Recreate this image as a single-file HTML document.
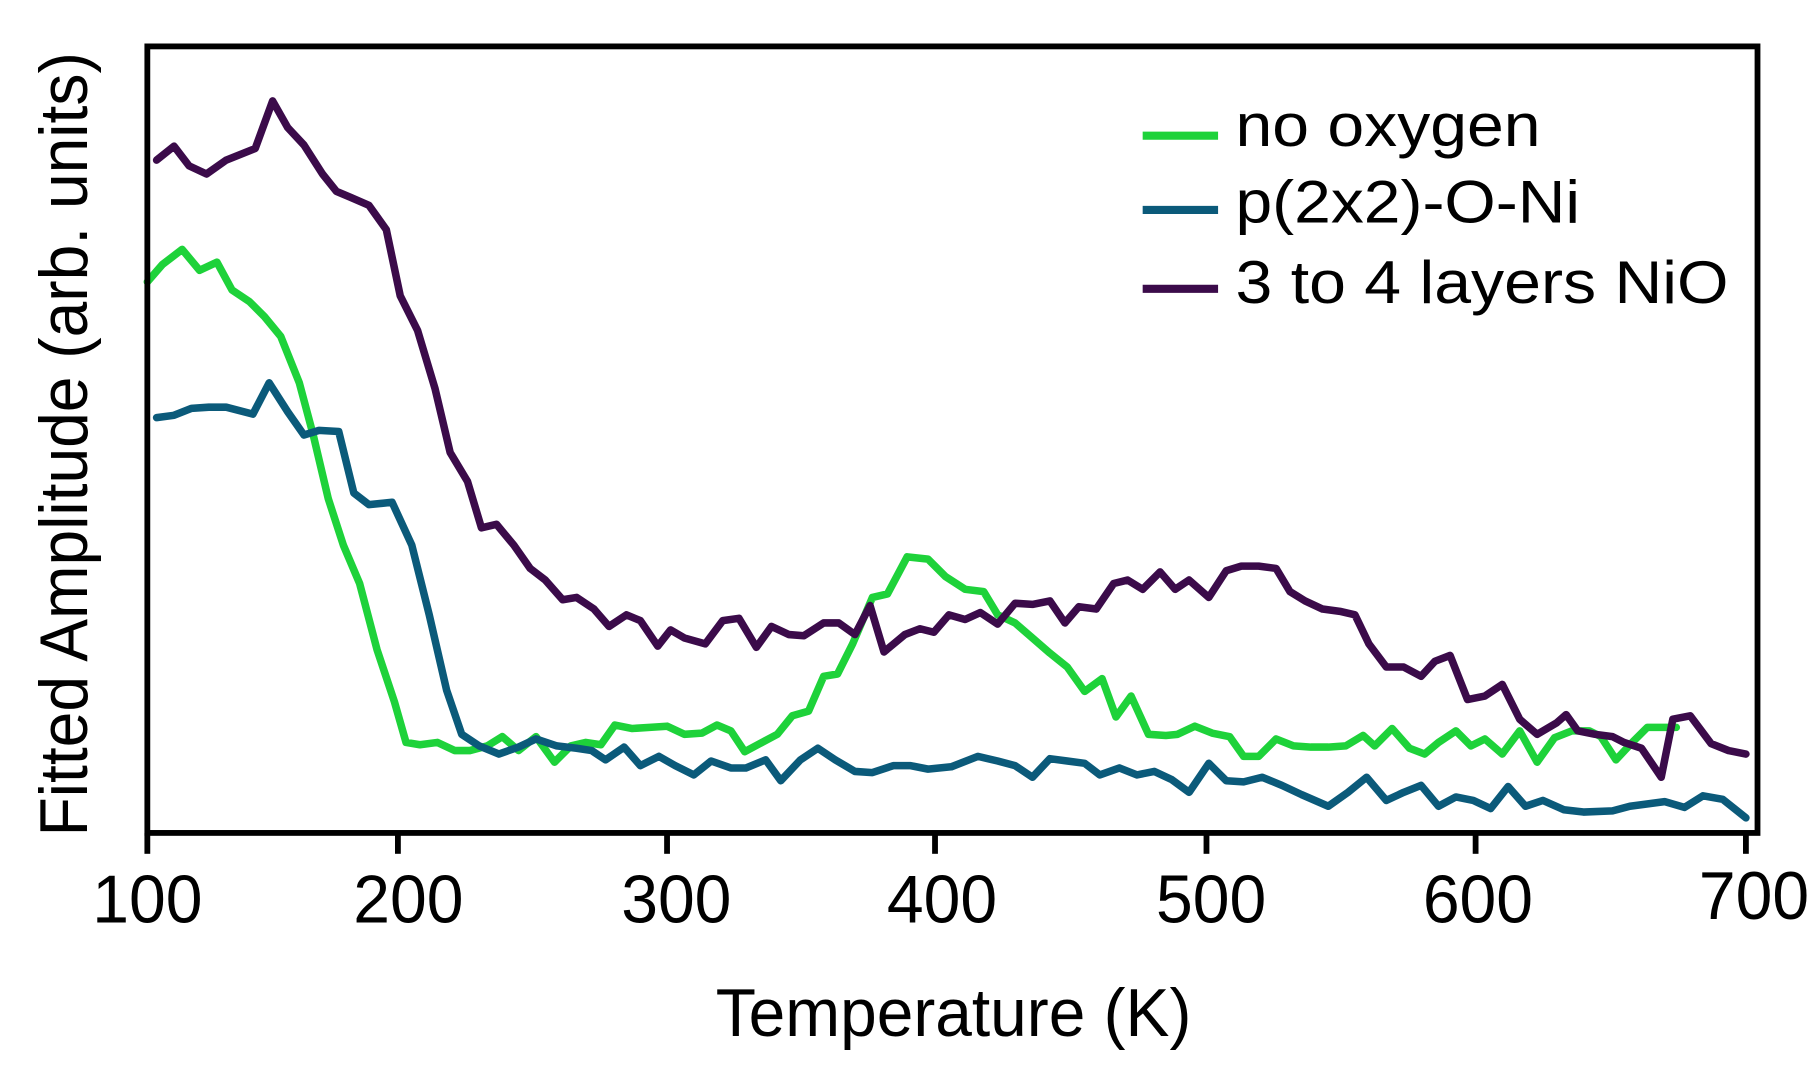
<!DOCTYPE html>
<html><head><meta charset="utf-8"><style>html,body{margin:0;padding:0;background:#fff;}svg{display:block}</style></head>
<body>
<svg width="1819" height="1069" viewBox="0 0 1568 921.5" xmlns="http://www.w3.org/2000/svg" font-family="Liberation Sans, Arial, sans-serif">
<rect width="1568" height="921.5" fill="#fff"/>
<g fill="none" stroke-width="6.5" stroke-linejoin="round" stroke-linecap="round">
<polyline stroke="#1ed23a" points="127,243 140,228 157,215 172,233 187,226 200,250 215,260 228,273 242,290 258,330 270,375 283,430 296,470 310,503 325,560 340,605 350,640 362,642 377,640 392,647 405,647 420,643 433,635 447,647 462,635 478,657 492,643 505,640 518,642 530,625 545,628 560,627 575,626 590,633 605,632 618,625 630,630 642,648 655,641 670,633 683,617 697,613 710,583 722,581 735,555 752,515 765,512 782,480 800,482 815,497 832,508 848,510 860,530 875,537 890,550 905,563 920,575 935,596 950,585 962,618 975,600 990,633 1005,634 1015,633 1030,626 1045,632 1060,635 1072,652 1085,652 1100,637 1115,643 1130,644 1145,644 1160,643 1175,634 1185,643 1200,628 1215,645 1228,650 1240,640 1255,630 1268,643 1280,637 1295,650 1310,630 1325,657 1340,636 1355,630 1370,630 1380,635 1393,655 1407,640 1420,627 1445,627"/>
<polyline stroke="#0b5a7a" points="135,360 150,358 165,352 180,351 195,351 218,357 232,330 248,355 262,375 275,371 292,372 305,425 318,435 338,433 355,470 370,530 385,595 398,633 413,643 430,650 447,644 462,637 480,643 497,645 510,647 522,655 538,644 552,660 568,652 582,660 598,668 613,656 630,662 643,662 660,655 673,673 690,655 705,645 720,655 737,665 752,666 770,660 785,660 800,663 820,661 843,652 860,656 875,660 890,670 905,654 920,656 935,658 948,668 965,662 980,668 995,665 1010,672 1025,683 1042,658 1057,673 1072,674 1088,670 1105,677 1122,685 1145,695 1162,683 1178,670 1195,690 1210,683 1225,677 1240,695 1255,687 1270,690 1285,697 1300,678 1315,695 1330,690 1348,698 1365,700 1390,699 1405,695 1435,691 1452,696 1468,686 1485,689 1505,705"/>
<polyline stroke="#3b0b4a" points="135,138 150,126 163,143 178,150 195,138 220,128 235,87 248,110 262,125 278,150 290,165 302,170 318,177 333,198 345,255 360,285 375,335 388,390 403,415 415,455 428,452 443,470 457,490 470,500 485,517 497,515 512,525 525,540 540,530 552,535 567,557 578,543 590,550 608,555 623,535 637,533 652,558 665,540 680,547 693,548 710,537 723,537 737,547 750,522 762,562 780,547 793,542 805,545 818,530 832,534 845,528 860,538 875,520 890,521 905,518 918,537 930,523 945,525 960,503 972,500 985,508 1000,493 1013,508 1025,500 1042,515 1057,492 1070,488 1085,488 1100,490 1112,510 1125,518 1140,525 1155,527 1168,530 1180,555 1195,575 1210,575 1225,583 1237,570 1250,565 1265,603 1280,600 1295,590 1310,620 1325,633 1342,623 1350,616 1360,630 1375,633 1390,635 1400,640 1415,645 1432,670 1442,620 1457,617 1475,641 1490,647 1505,650"/>
</g>
<rect x="127" y="40" width="1388" height="678" fill="none" stroke="#000" stroke-width="5"/>
<g stroke="#000" stroke-width="5">
<line x1="127" y1="718" x2="127" y2="736"/><line x1="343" y1="718" x2="343" y2="736"/><line x1="575" y1="718" x2="575" y2="736"/><line x1="806" y1="718" x2="806" y2="736"/><line x1="1040" y1="718" x2="1040" y2="736"/><line x1="1272" y1="718" x2="1272" y2="736"/><line x1="1505" y1="718" x2="1505" y2="736"/>
</g>
<g font-size="58" text-anchor="middle" fill="#000">
<text x="127" y="795" textLength="95" lengthAdjust="spacingAndGlyphs">100</text>
<text x="352" y="795" textLength="95" lengthAdjust="spacingAndGlyphs">200</text>
<text x="583" y="795" textLength="95" lengthAdjust="spacingAndGlyphs">300</text>
<text x="812" y="795" textLength="95" lengthAdjust="spacingAndGlyphs">400</text>
<text x="1044" y="795" textLength="95" lengthAdjust="spacingAndGlyphs">500</text>
<text x="1274" y="795" textLength="95" lengthAdjust="spacingAndGlyphs">600</text>
<text x="1512" y="792" textLength="95" lengthAdjust="spacingAndGlyphs">700</text>
<text x="822" y="893" textLength="410" lengthAdjust="spacingAndGlyphs">Temperature (K)</text>
<text transform="translate(75,383) rotate(-90)" textLength="676" lengthAdjust="spacingAndGlyphs">Fitted Amplitude (arb. units)</text>
</g>
<g stroke-width="7">
<line x1="985" y1="117" x2="1050" y2="117" stroke="#1ed23a"/>
<line x1="985" y1="181" x2="1050" y2="181" stroke="#0b5a7a"/>
<line x1="985" y1="249" x2="1050" y2="249" stroke="#3b0b4a"/>
</g>
<g font-size="52" fill="#000">
<text x="1065" y="126" textLength="263" lengthAdjust="spacingAndGlyphs">no oxygen</text>
<text x="1065" y="192" textLength="297" lengthAdjust="spacingAndGlyphs">p(2x2)-O-Ni</text>
<text x="1065" y="261" textLength="425" lengthAdjust="spacingAndGlyphs">3 to 4 layers NiO</text>
</g>
</svg>
</body></html>
